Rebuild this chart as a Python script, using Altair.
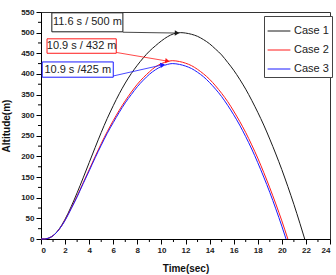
import altair as alt
import pandas as pd

# Altitude vs time for three launch cases
case_names = ["Case 1", "Case 2", "Case 3"]
case_colors = ["#1a1a1a", "#ff1a1a", "#1a1aff"]

t1 = [0, 0.3, 0.5, 1.0, 1.5, 2.0, 2.5, 3.0, 3.5, 4.0, 4.5, 5.0, 5.5, 6.0, 6.5, 7.0,
      7.5, 8.0, 8.5, 9.0, 9.5, 10.0, 10.5, 11.0, 11.6, 12.0, 12.5, 13.0, 13.5, 14.0,
      14.5, 15.0, 15.5, 16.0, 16.5, 17.0, 17.5, 18.0, 18.5, 19.0, 19.5, 20.0, 20.5,
      21.0, 21.5, 21.9]
h1 = [0, 0, 1, 8, 24, 48, 78, 112, 148, 185, 222, 258, 292, 323, 352, 378,
      401, 421, 439, 455, 468, 480, 490, 497, 500, 499, 496, 491, 483, 473,
      460, 446, 428, 409, 387, 363, 336, 307, 276, 242, 206, 168, 127,
      84, 38, 0]

t2 = [0, 0.3, 0.5, 1.0, 1.5, 2.0, 2.5, 3.0, 3.5, 4.0, 4.5, 5.0, 5.5, 6.0, 6.5, 7.0,
      7.5, 8.0, 8.5, 9.0, 9.5, 10.0, 10.5, 10.9, 11.5, 12.0, 12.5, 13.0, 13.5, 14.0,
      14.5, 15.0, 15.5, 16.0, 16.5, 17.0, 17.5, 18.0, 18.5, 19.0, 19.5, 20.0, 20.5]
h2 = [0, 0, 1, 8, 23, 46, 74, 104, 136, 168, 200, 231, 260, 287, 312, 335,
      356, 375, 391, 405, 417, 425, 430, 432, 430, 426, 420, 411, 400, 387,
      371, 353, 333, 310, 285, 258, 228, 196, 161, 124, 85, 44, 0]

t3 = [0, 0.3, 0.5, 1.0, 1.5, 2.0, 2.5, 3.0, 3.5, 4.0, 4.5, 5.0, 5.5, 6.0, 6.5, 7.0,
      7.5, 8.0, 8.5, 9.0, 9.5, 10.0, 10.5, 10.9, 11.5, 12.0, 12.5, 13.0, 13.5, 14.0,
      14.5, 15.0, 15.5, 16.0, 16.5, 17.0, 17.5, 18.0, 18.5, 19.0, 19.5, 20.0, 20.35]
h3 = [0, 0, 1, 8, 23, 45, 73, 102, 134, 165, 197, 227, 256, 282, 307, 330,
      350, 369, 385, 399, 410, 418, 423, 425, 423, 419, 413, 404, 393, 379,
      363, 345, 324, 301, 276, 248, 218, 185, 150, 113, 73, 31, 0]

# Peak callouts: label, box extent (time / altitude), arrow start and tip
ann_labels = ["11.6 s / 500 m", "10.9 s / 432 m", "10.9 s /425 m"]
ann_box_t = [(0.9, 6.8), (0.5, 6.25), (0.1, 6.0)]
ann_box_h = [(548, 502), (485, 450), (429, 392)]
ann_from = [(6.8, 501), (6.25, 452), (6.0, 395)]
ann_tip = [(11.3, 499), (10.5, 431), (10.1, 422)]
ann_angle = [1, 11, 347]

x_major = list(range(0, 25, 2))
x_minor = list(range(1, 24, 2))
y_major = list(range(0, 551, 50))
y_minor = list(range(25, 550, 50))

W, H = 289, 227
FONT = "Liberation Sans"

rows = []
for name, ts, hs in zip(case_names, [t1, t2, t3], [h1, h2, h3]):
    for t, h in zip(ts, hs):
        rows.append({"case": name, "time": t, "alt": h})
df = pd.DataFrame(rows)

ann = pd.DataFrame({
    "label": ann_labels,
    "color": case_colors,
    "bx": [b[0] for b in ann_box_t], "bx2": [b[1] for b in ann_box_t],
    "by": [b[0] for b in ann_box_h], "by2": [b[1] for b in ann_box_h],
    "cx": [(b[0] + b[1]) / 2 for b in ann_box_t],
    "cy": [(b[0] + b[1]) / 2 for b in ann_box_h],
    "ax": [a[0] for a in ann_from], "ay": [a[1] for a in ann_from],
    "tx": [a[0] for a in ann_tip], "ty": [a[1] for a in ann_tip],
    "angle": ann_angle,
})

xs = alt.Scale(domain=[0, 24], nice=False, zero=False)
ys = alt.Scale(domain=[0, 550], nice=False)
x_axis = alt.Axis(values=x_major, title="Time(sec)", titlePadding=9)
y_axis = alt.Axis(values=y_major, title="Altitude(m)", titlePadding=9)


def X(field):
    return alt.X(field, scale=xs, axis=x_axis)


def Y(field):
    return alt.Y(field, scale=ys, axis=y_axis)


lines = alt.Chart(df).mark_line(strokeWidth=1, interpolate="monotone").encode(
    x=X("time:Q"),
    y=Y("alt:Q"),
    color=alt.Color("case:N", scale=alt.Scale(domain=case_names, range=case_colors),
                    legend=alt.Legend(orient="none", legendX=223, legendY=4, title=None,
                                      strokeColor="#444", fillColor="white", padding=3,
                                      symbolType="stroke", symbolSize=520,
                                      symbolStrokeWidth=1, labelFontSize=11,
                                      labelFont=FONT, labelColor="#222",
                                      rowPadding=2, labelOffset=3)),
)

xminor = alt.Chart(pd.DataFrame({"v": x_minor})).mark_rule(color="black", strokeWidth=1).encode(
    x=X("v:Q"), y=alt.value(H), y2=alt.value(H + 3))
yminor = alt.Chart(pd.DataFrame({"v": y_minor})).mark_rule(color="black", strokeWidth=1).encode(
    y=Y("v:Q"), x=alt.value(0), x2=alt.value(-3))

boxes = alt.Chart(ann).mark_rect(fill="white", strokeWidth=1).encode(
    x=X("bx:Q"), x2="bx2:Q",
    y=Y("by:Q"), y2="by2:Q",
    stroke=alt.Stroke("color:N", scale=None))
texts = alt.Chart(ann).mark_text(font=FONT, fontSize=11, color="#222", baseline="middle").encode(
    x=X("cx:Q"), y=Y("cy:Q"), text="label:N")
arrows = alt.Chart(ann).mark_rule(strokeWidth=0.8).encode(
    x=X("ax:Q"), x2="tx:Q",
    y=Y("ay:Q"), y2="ty:Q",
    color=alt.Color("color:N", scale=None))
heads = alt.Chart(ann).mark_point(shape="triangle-right", filled=True, size=28, opacity=1).encode(
    x=X("tx:Q"), y=Y("ty:Q"),
    angle=alt.Angle("angle:Q", scale=None),
    color=alt.Color("color:N", scale=None))

chart = alt.layer(lines, xminor, yminor, boxes, texts, arrows, heads).properties(
    width=W, height=H,
    autosize=alt.AutoSizeParams(type="none"),
    padding={"left": 41, "top": 12, "right": 6, "bottom": 36},
).configure_view(stroke="#333", strokeWidth=1).configure_axis(
    grid=False, labelFont=FONT, labelFontWeight="bold", labelFontSize=8,
    labelColor="#222", tickSize=5, tickColor="black", domainColor="black",
    labelPadding=2, titleFont=FONT, titleFontSize=10, titleFontWeight="bold",
    titleColor="#111",
)

chart.save("out.html", embed_options={"renderer": "svg", "actions": False})
